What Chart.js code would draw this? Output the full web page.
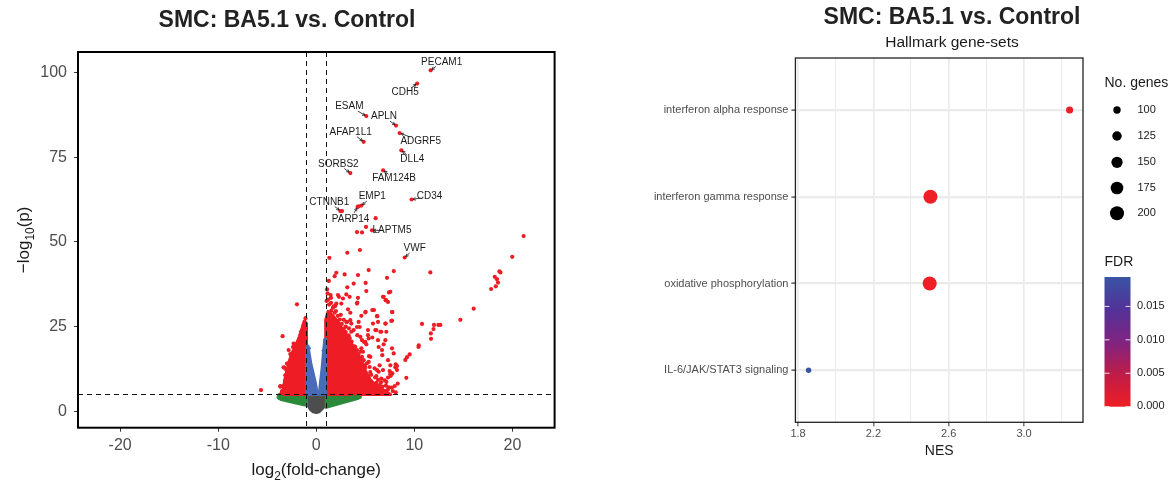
<!DOCTYPE html>
<html>
<head>
<meta charset="utf-8">
<script src="https://cdn.jsdelivr.net/npm/chart.js@4.4.1/dist/chart.umd.min.js"></script>
<style>
    body { margin: 0; background: #fff; width: 1172px; height: 482px; overflow: hidden; }
    #volcano { position: absolute; left: 0; top: 0; }
    #gsea { position: absolute; left: 580px; top: 0; }
</style>
</head>
<body>
<canvas id="volcano" width="580" height="482"></canvas>
<canvas id="gsea" width="592" height="482"></canvas>
<script>
// ---------- volcano data (log2FC, -log10 p) ----------
const fcCut = 1;
const pCut = 5;

// dense clouds, outlines
const nsCore = [[-1, 5], [0.1, 5], [0.2, 3.6], [0.3, 5], [1, 5], [1, 2], [0.6, 0.8], [0.3, -0.1], [0, -0.3], [-0.35, -0.1], [-0.6, 0.6], [-0.85, 1.8], [-1, 2.6]];
const fcCoreLeft = [[-1, 5], [-3.8, 5], [-3.9, 4.2], [-3.6, 3.5], [-2.5, 2.8], [-1.5, 2.1], [-1, 1.8]];
const fcCoreRight = [[1, 5], [4.4, 5], [4.5, 4.2], [4.2, 3.8], [3.0, 2.8], [2.0, 2.0], [1, 1.2]];
const pCoreLeft = [[-1, 5], [-1, 18.6], [-0.85, 19.3], [-0.72, 17], [-0.55, 14], [-0.3, 11], [-0.1, 8.5], [0.05, 6], [0.1, 5]];
const pCoreRight = [[0.3, 5], [0.95, 5], [0.95, 20], [0.86, 21], [0.75, 18], [0.6, 13], [0.42, 8.5]];
const sigCoreLeft = [[-1, 5], [-1, 26], [-1.3, 26], [-1.6, 23], [-1.8, 21.5], [-2.2, 19], [-2.5, 17], [-2.8, 14.5], [-3.0, 12], [-3.2, 9.5], [-3.35, 7], [-3.4, 5]];
const sigCoreRight = [[1, 5], [0.95, 27], [1.2, 29.5], [1.6, 28.5], [2.2, 26.5], [2.7, 24], [3.2, 22], [3.7, 19.5], [4.2, 17], [4.6, 14.5], [4.9, 12.5], [5.3, 10.5], [5.6, 8.8], [6.4, 7.2], [7.0, 6], [7.6, 5]];

// scattered genes
const fcOnly = [[-3.8, 4.0], [-3.6, 4.3], [-3.4, 3.8], [-2.9, 3.5], [4.2, 4.5], [4.0, 4.1], [3.7, 4.3]];
const pOnly = [[-0.95, 17.5], [-0.9, 16.3], [-0.85, 15], [-0.8, 13.5], [-0.75, 12], [-0.7, 10.5], [-0.65, 9], [-0.6, 8], [-0.5, 7], [-0.45, 6], [-0.4, 5.5], [-0.78, 18.6],
    [0.92, 21.2], [0.85, 18], [0.75, 17.9], [0.8, 16], [0.75, 14], [0.7, 12.5], [0.65, 11], [0.6, 9.5], [0.55, 8], [0.5, 7], [0.45, 6], [0.4, 5.4]];
const sigDown = [[-1.97, 31.6], [-1.30, 25.4], [-1.20, 24.8], [-3.44, 22.2], [-1.56, 23.5], [-1.46, 22.0], [-1.81, 20.0], [-2.31, 20.0], [-2.48, 17.1], [-2.55, 16.6],
    [-2.38, 19.0], [-2.93, 14.1], [-3.27, 12.9], [-3.06, 12.2], [-2.48, 15.1], [-2.65, 13.4], [-3.67, 7.3], [-3.34, 7.5], [-3.50, 6.0], [-5.64, 6.3],
    [-2.99, 8.2], [-3.16, 6.8], [-2.14, 11.7], [-1.97, 9.7], [-1.63, 22.5], [-2.82, 18.1], [-2.65, 16.9], [-3.34, 13.0], [-2.99, 14.1], [-3.16, 10.7],
    [-2.82, 10.2], [-3.67, 7.5], [-3.2, 9.0], [-2.0, 19.0], [-1.7, 20.0],
    [-1.1, 27.5], [-1.2, 26.5], [-1.45, 24.0], [-1.75, 21.3], [-2.1, 18.2], [-2.3, 16.0], [-2.4, 14.5], [-2.55, 12.6], [-2.7, 11.5], [-2.85, 9.6],
    [-3.0, 9.0], [-3.1, 7.8], [-3.3, 6.5], [-3.45, 5.6], [-3.55, 5.3], [-2.2, 13.3], [-1.85, 18.8], [-1.5, 21.0]];
const sigUp = [[6.05, 57.0], [4.15, 52.9], [4.66, 52.8], [5.07, 54.4], [2.62, 59.1], [4.32, 60.5], [3.16, 46.8], [4.45, 47.6], [1.33, 45.3],
    [21.14, 51.7], [19.98, 45.6], [11.63, 41.0], [7.90, 41.4], [5.34, 41.7], [2.04, 40.9], [1.87, 39.9], [2.89, 40.4], [4.25, 40.2], [7.21, 39.4],
    [18.67, 41.3], [18.78, 41.0], [18.2, 39.7], [18.42, 39.0], [18.53, 38.0], [18.3, 36.9], [17.83, 36.1], [16.05, 30.3], [14.69, 27.0],
    [10.78, 25.8], [12.0, 25.5], [12.45, 25.5], [12.65, 25.5], [11.95, 24.3], [11.68, 23.0], [11.7, 21.4], [10.45, 19.5], [10.42, 19.0],
    [9.52, 16.8], [9.25, 16.0], [9.08, 15.2], [9.18, 9.9], [8.1, 13.9], [8.23, 13.4], [8.06, 13.0], [8.23, 12.2], [7.55, 11.0], [7.6, 11.4],
    [7.72, 29.3], [7.72, 26.8], [7.55, 35.3],
    [3.16, 36.6], [5.03, 37.9], [3.81, 37.7], [1.46, 34.3], [2.21, 34.3], [2.31, 33.8], [3.06, 34.5], [3.40, 33.8], [2.72, 33.3], [4.25, 33.5],
    [5.10, 35.5], [6.80, 33.8], [7.07, 32.8], [7.31, 32.3], [7.41, 35.1], [4.18, 32.1], [2.04, 31.8], [2.55, 31.8], [1.94, 31.1], [3.23, 30.1],
    [1.53, 29.7], [1.87, 29.1], [5.03, 29.4], [5.71, 29.9], [5.88, 29.9], [7.76, 29.3], [4.59, 28.2], [6.22, 28.1], [7.07, 25.9], [7.65, 26.7],
    [3.06, 26.4], [3.57, 25.9], [5.78, 25.9], [6.29, 26.4], [4.42, 24.9], [5.27, 24.0], [3.33, 24.5], [3.57, 23.5], [6.12, 24.0], [6.63, 23.5],
    [7.14, 23.5], [4.18, 22.5], [5.27, 22.5], [5.71, 21.8], [6.29, 21.0], [4.87, 20.5], [5.10, 19.8], [4.59, 18.6], [4.76, 17.6], [6.73, 16.6],
    [5.37, 16.3], [4.25, 15.9], [4.42, 14.6], [3.74, 15.3], [4.93, 13.6], [5.44, 13.1], [5.95, 12.7], [6.46, 13.6], [6.80, 12.2], [7.48, 11.9],
    [7.76, 11.2], [4.76, 11.2], [5.27, 10.4], [6.12, 10.4], [6.63, 9.7], [6.97, 9.2], [5.61, 8.9], [6.12, 8.4], [7.14, 8.7], [4.42, 8.3],
    [4.93, 7.8], [6.46, 7.8], [6.73, 7.3], [6.39, 6.8], [7.31, 10.0], [7.6, 10.5], [5.44, 6.8], [5.95, 6.3], [3.91, 6.3], [4.25, 5.8],
    [7.0, 6.0], [7.3, 6.4], [7.7, 7.0], [8.0, 7.5], [8.3, 8.2],
    [6.87, 33.8], [7.11, 32.8], [4.15, 31.8], [3.47, 29.1], [5.0, 29.2], [6.19, 28.1], [7.04, 25.9], [4.49, 22.0], [4.66, 21.0], [5.0, 20.5],
    [5.34, 21.5], [3.81, 24.0], [4.15, 24.9], [4.32, 26.4], [3.13, 26.4], [3.47, 26.9], [2.79, 23.5], [2.96, 22.5], [6.02, 24.0], [6.53, 23.5],
    [7.04, 21.0], [6.87, 19.8], [6.36, 19.0], [6.70, 18.1], [7.72, 18.6], [7.89, 17.1], [7.31, 15.1], [7.55, 13.6], [5.51, 16.1], [5.34, 14.6],
    [5.17, 14.2], [4.49, 17.6], [4.66, 16.1], [4.83, 15.1], [3.98, 19.0], [4.15, 18.1], [6.19, 12.2], [6.36, 11.7], [5.68, 8.3], [5.34, 7.8],
    [5.0, 7.3], [4.66, 6.8], [4.32, 6.3], [1.1, 36.0], [1.2, 33.0], [1.5, 32.0], [2.5, 28.5], [2.8, 27.0], [3.0, 25.0], [1.28, 38.5],
    [1.3, 31.5], [1.7, 30.6], [2.2, 28.2], [2.6, 25.8], [3.0, 23.4], [3.4, 21.6], [3.9, 19.2], [4.3, 16.8], [4.7, 14.6], [5.0, 12.9],
    [5.5, 11.6], [6.0, 10.0], [6.6, 8.6], [7.4, 7.1], [7.8, 6.0], [8.1, 5.6], [2.0, 29.6], [2.4, 27.1], [3.6, 20.6], [1.05, 32.6],
    [1.5, 33.5], [2.8, 24.4], [3.3, 22.4], [4.0, 17.8], [4.5, 15.6], [5.6, 10.8], [6.3, 9.3], [7.1, 7.6], [1.15, 34.8], [1.8, 31.0]];

// labelled genes
const geneNames = ['PECAM1', 'CDH5', 'ESAM', 'APLN', 'ADGRF5', 'AFAP1L1', 'DLL4', 'SORBS2', 'FAM124B', 'CD34', 'EMP1', 'PARP14', 'CTNNB1', 'LAPTM5', 'VWF'];
const geneFC = [11.66, 10.28, 5.10, 8.13, 8.50, 4.83, 8.67, 3.47, 6.81, 9.72, 4.59, 4.21, 2.45, 5.68, 9.01];
const geneP = [100.6, 96.7, 87.1, 84.3, 82.1, 79.5, 77.0, 70.3, 71.1, 62.5, 60.7, 60.3, 59.1, 53.4, 45.4];

const fcTicks = [-20, -10, 0, 10, 20];
const pTicks = [0, 25, 50, 75, 100];

// ---------- GSEA data ----------
const geneSets = ['IL-6/JAK/STAT3 signaling', 'oxidative phosphorylation', 'interferon gamma response', 'interferon alpha response'];
const nes = [1.856, 2.499, 2.503, 3.242];
const setSize = [82, 200, 200, 97];
const fdr = [0.0194, 0, 0, 0];
const nesTicks = [1.8, 2.0, 2.2, 2.4, 2.6, 2.8, 3.0, 3.2];
const nesLabelled = [1.8, 2.2, 2.6, 3.0];
const sizeBreaks = [100, 125, 150, 175, 200];
const fdrBreaks = [0, 0.005, 0.010, 0.015];

// ---------- styles ----------
const FONT = '"Liberation Sans", Arial, Helvetica, sans-serif';
Chart.defaults.font.family = FONT;
const colNS = '#4d4d4d', colFC = '#2b8a3a', colP = '#4a6cb8', colSig = '#ee1d25';
// label offsets in px from the point: [dx, dy]
const labelOffsets = {
    PECAM1: [11, -8], CDH5: [-12, 9], ESAM: [-17, -10], APLN: [-12, -9], ADGRF5: [21, 8], AFAP1L1: [-13, -10],
    DLL4: [11, 9], SORBS2: [-12, -9], FAM124B: [11, 8], CD34: [18, -3], EMP1: [11, -9], PARP14: [-7, 12],
    CTNNB1: [-11, -9], LAPTM5: [20, 0], VWF: [10, -9]
};

function pts(arr) {
    return arr.map(p => ({ x: p[0], y: p[1] }));
}

function drawParts(ctx, parts, size, cx, cy) {
    // text with subscripts, centred on cx
    let w = 0;
    parts.forEach(p => {
        ctx.font = (p.sub ? size * 0.7 : size) + 'px ' + FONT;
        p.w = ctx.measureText(p.t).width;
        w += p.w;
    });
    let x = cx - w / 2;
    ctx.textAlign = 'left';
    ctx.textBaseline = 'alphabetic';
    parts.forEach(p => {
        ctx.font = (p.sub ? size * 0.7 : size) + 'px ' + FONT;
        ctx.fillText(p.t, x, cy + (p.sub ? size * 0.3 : 0));
        x += p.w;
    });
}

function drawPoly(chart, poly, color) {
    const { ctx, scales: { x, y } } = chart;
    ctx.beginPath();
    poly.forEach((p, i) => {
        const px = x.getPixelForValue(p[0]), py = y.getPixelForValue(p[1]);
        if (i) ctx.lineTo(px, py); else ctx.moveTo(px, py);
    });
    ctx.closePath();
    ctx.fillStyle = color;
    ctx.strokeStyle = color;
    ctx.lineWidth = 3;
    ctx.lineJoin = 'round';
    ctx.fill();
    ctx.stroke();
}

const volcanoDecor = {
    id: 'volcanoDecor',
    beforeDatasetsDraw(chart) {
        const { ctx, chartArea: a } = chart;
        ctx.save();
        ctx.beginPath();
        ctx.rect(a.left, a.top, a.right - a.left, a.bottom - a.top);
        ctx.clip();
        drawPoly(chart, nsCore, colNS);
        drawPoly(chart, fcCoreLeft, colFC);
        drawPoly(chart, fcCoreRight, colFC);
        drawPoly(chart, sigCoreLeft, colSig);
        drawPoly(chart, sigCoreRight, colSig);
        drawPoly(chart, pCoreLeft, colP);
        drawPoly(chart, pCoreRight, colP);
        ctx.restore();
    },
    afterDatasetsDraw(chart) {
        const { ctx, chartArea: a, scales: { x, y } } = chart;
        ctx.save();
        // cut-off lines
        ctx.setLineDash([5, 4]);
        ctx.strokeStyle = '#111';
        ctx.lineWidth = 1;
        [-fcCut, fcCut].forEach(v => {
            const px = Math.round(x.getPixelForValue(v)) + 0.5;
            ctx.beginPath(); ctx.moveTo(px, a.top); ctx.lineTo(px, a.bottom); ctx.stroke();
        });
        const py = Math.round(y.getPixelForValue(pCut)) + 0.5;
        ctx.beginPath(); ctx.moveTo(a.left, py); ctx.lineTo(a.right, py); ctx.stroke();
        ctx.setLineDash([]);

        // gene labels with connectors
        ctx.font = '10px ' + FONT;
        ctx.textAlign = 'center';
        ctx.textBaseline = 'middle';
        geneNames.forEach((name, i) => {
            const px = x.getPixelForValue(geneFC[i]);
            const gy = y.getPixelForValue(geneP[i]);
            const off = labelOffsets[name];
            const lx = px + off[0], ly = gy + off[1];
            const dx = px - lx, dy = gy - ly;
            const len = Math.hypot(dx, dy);
            const ux = dx / len, uy = dy / len;
            const sx = lx + dx * 0.5, sy = ly + dy * 0.5;
            const ex = px - ux * 1.5, ey = gy - uy * 1.5;
            ctx.strokeStyle = '#111';
            ctx.lineWidth = 0.8;
            ctx.beginPath(); ctx.moveTo(sx, sy); ctx.lineTo(ex, ey); ctx.stroke();
            const ang = Math.atan2(uy, ux);
            ctx.beginPath();
            ctx.moveTo(ex - 3 * Math.cos(ang - 0.5), ey - 3 * Math.sin(ang - 0.5));
            ctx.lineTo(ex, ey);
            ctx.lineTo(ex - 3 * Math.cos(ang + 0.5), ey - 3 * Math.sin(ang + 0.5));
            ctx.stroke();
            ctx.fillStyle = '#1a1a1a';
            ctx.fillText(name, lx, ly);
        });

        // panel border
        ctx.strokeStyle = '#000';
        ctx.lineWidth = 2;
        ctx.strokeRect(a.left, a.top, a.right - a.left, a.bottom - a.top);
        ctx.restore();
    },
    afterDraw(chart) {
        const { ctx, chartArea: a } = chart;
        ctx.save();
        ctx.fillStyle = '#222';
        ctx.font = 'bold 23px ' + FONT;
        ctx.textAlign = 'center';
        ctx.textBaseline = 'middle';
        ctx.fillText('SMC: BA5.1 vs. Control', 287, 21);

        ctx.fillStyle = '#1a1a1a';
        drawParts(ctx, [{ t: 'log' }, { t: '2', sub: true }, { t: '(fold-change)' }], 17, (a.left + a.right) / 2, 475);
        ctx.translate(29, (a.top + a.bottom) / 2);
        ctx.rotate(-Math.PI / 2);
        drawParts(ctx, [{ t: '\u2212log' }, { t: '10', sub: true }, { t: '(p)' }], 17, 0, 0);
        ctx.restore();
    }
};

new Chart(document.getElementById('volcano'), {
    type: 'scatter',
    data: {
        datasets: [
            { data: pts(fcOnly), backgroundColor: colFC },
            { data: pts(sigDown), backgroundColor: colSig },
            { data: pts(sigUp), backgroundColor: colSig },
            { data: pts(pOnly), backgroundColor: colP },
            { data: geneFC.map((v, i) => ({ x: v, y: geneP[i] })), backgroundColor: colSig }
        ]
    },
    options: {
        responsive: false,
        animation: false,
        events: [],
        elements: { point: { radius: 2.1, borderWidth: 0 } },
        layout: { padding: { top: 52, right: 25.4, left: 0, bottom: 0 } },
        plugins: { legend: { display: false }, tooltip: { enabled: false } },
        scales: {
            x: {
                type: 'linear', min: -24.3, max: 24.3,
                afterBuildTicks: axis => { axis.ticks = fcTicks.map(v => ({ value: v })); },
                afterFit: axis => { axis.height = 482 - 427.7; },
                border: { display: false },
                grid: { drawOnChartArea: false, tickLength: 4, tickColor: '#333', tickWidth: 1 },
                ticks: { color: '#4d4d4d', font: { size: 16 }, padding: 4, maxRotation: 0 }
            },
            y: {
                type: 'linear', min: -4.8, max: 106,
                afterBuildTicks: axis => { axis.ticks = pTicks.map(v => ({ value: v })); },
                afterFit: axis => { axis.width = 78; },
                border: { display: false },
                grid: { drawOnChartArea: false, tickLength: 4, tickColor: '#333', tickWidth: 1 },
                ticks: { color: '#4d4d4d', font: { size: 16 }, padding: 7 }
            }
        }
    },
    plugins: [volcanoDecor]
});

// ---------- GSEA dot plot ----------
const fdrMax = Math.max(...fdr);
const fdrStops = [[0, [238, 30, 36]], [0.25, [190, 28, 72]], [0.5, [128, 36, 130]], [0.75, [82, 50, 152]], [1, [58, 84, 164]]];

function fdrColor(v) {
    const t = Math.min(1, Math.max(0, v / fdrMax));
    for (let i = 1; i < fdrStops.length; i++) {
        if (t <= fdrStops[i][0]) {
            const [t0, c0] = fdrStops[i - 1], [t1, c1] = fdrStops[i];
            const f = (t - t0) / (t1 - t0);
            const c = c0.map((c, k) => Math.round(c + (c1[k] - c) * f));
            return `rgb(${c[0]},${c[1]},${c[2]})`;
        }
    }
    return 'rgb(58,84,164)';
}

function sizeRadius(n) {
    return Math.sqrt(Math.max(4, 0.353 * n - 21.6));
}

const gseaDecor = {
    id: 'gseaDecor',
    afterDatasetsDraw(chart) {
        const { ctx, chartArea: a } = chart;
        ctx.save();
        ctx.strokeStyle = '#222';
        ctx.lineWidth = 1.3;
        ctx.strokeRect(a.left, a.top, a.right - a.left, a.bottom - a.top);
        ctx.restore();
    },
    afterDraw(chart) {
        const { ctx, chartArea: a } = chart;
        ctx.save();
        ctx.textAlign = 'center';
        ctx.textBaseline = 'middle';
        ctx.fillStyle = '#222';
        ctx.font = 'bold 23px ' + FONT;
        ctx.fillText('SMC: BA5.1 vs. Control', 372, 18);
        ctx.fillStyle = '#1a1a1a';
        ctx.font = '15.5px ' + FONT;
        ctx.fillText('Hallmark gene-sets', 372, 43);
        ctx.font = '14px ' + FONT;
        ctx.fillText('NES', (a.left + a.right) / 2, 451);

        // size legend
        ctx.textAlign = 'left';
        ctx.fillText('No. genes', 524.5, 83);
        const rows = [110, 136, 162.3, 188, 213.3];
        sizeBreaks.forEach((n, i) => {
            ctx.fillStyle = '#000';
            ctx.beginPath();
            ctx.arc(537, rows[i], sizeRadius(n), 0, Math.PI * 2);
            ctx.fill();
            ctx.fillStyle = '#1a1a1a';
            ctx.font = '11px ' + FONT;
            ctx.fillText(String(n), 557.5, rows[i]);
        });

        // FDR colourbar
        ctx.font = '14px ' + FONT;
        ctx.fillText('FDR', 524.5, 262.5);
        const bx = 524.5, bw = 26, bTop = 277, bBot = 406.7;
        const grad = ctx.createLinearGradient(0, bBot, 0, bTop);
        fdrStops.forEach(s => grad.addColorStop(s[0], `rgb(${s[1].join(',')})`));
        ctx.fillStyle = grad;
        ctx.fillRect(bx, bTop, bw, bBot - bTop);
        ctx.strokeStyle = 'rgba(255,255,255,0.85)';
        ctx.lineWidth = 1;
        ctx.font = '11px ' + FONT;
        fdrBreaks.forEach(v => {
            const yy = bBot - (v / fdrMax) * (bBot - bTop);
            ctx.beginPath();
            ctx.moveTo(bx, yy); ctx.lineTo(bx + 5, yy);
            ctx.moveTo(bx + bw - 5, yy); ctx.lineTo(bx + bw, yy);
            ctx.stroke();
            ctx.fillStyle = '#1a1a1a';
            ctx.fillText(v.toFixed(3), 557, Math.min(yy, bBot - 1));
        });
        ctx.restore();
    }
};

new Chart(document.getElementById('gsea'), {
    type: 'scatter',
    data: {
        datasets: [{
            data: nes.map((v, i) => ({ x: v, y: i + 1 })),
            pointRadius: c => sizeRadius(setSize[c.dataIndex]),
            backgroundColor: c => fdrColor(fdr[c.dataIndex]),
            borderWidth: 0
        }]
    },
    options: {
        responsive: false,
        animation: false,
        events: [],
        layout: { padding: { top: 58, right: 89, left: 0, bottom: 0 } },
        plugins: { legend: { display: false }, tooltip: { enabled: false } },
        scales: {
            x: {
                type: 'linear', min: 1.786, max: 3.313,
                afterBuildTicks: axis => { axis.ticks = nesTicks.map(v => ({ value: v })); },
                afterFit: axis => { axis.height = 482 - 422.3; },
                border: { display: false },
                grid: {
                    color: '#ebebeb',
                    lineWidth: c => nesLabelled.some(v => Math.abs(v - c.tick.value) < 1e-6) ? 1.7 : 1.1,
                    tickLength: 4, tickWidth: 1,
                    tickColor: c => nesLabelled.some(v => Math.abs(v - c.tick.value) < 1e-6) ? '#333' : 'rgba(0,0,0,0)'
                },
                ticks: {
                    color: '#4d4d4d', font: { size: 11 }, padding: 1, maxRotation: 0, autoSkip: false,
                    callback: v => nesLabelled.some(m => Math.abs(m - v) < 1e-6) ? v.toFixed(1) : ''
                }
            },
            y: {
                type: 'linear', min: 0.4, max: 4.6,
                afterBuildTicks: axis => { axis.ticks = geneSets.map((s, i) => ({ value: i + 1 })); },
                afterFit: axis => { axis.width = 215.4; },
                border: { display: false },
                grid: { color: '#ebebeb', lineWidth: 2.2, tickLength: 4, tickWidth: 1.2, tickColor: '#333' },
                ticks: { color: '#4d4d4d', font: { size: 11 }, padding: 3, callback: v => geneSets[v - 1] }
            }
        }
    },
    plugins: [gseaDecor]
});
</script>
</body>
</html>
